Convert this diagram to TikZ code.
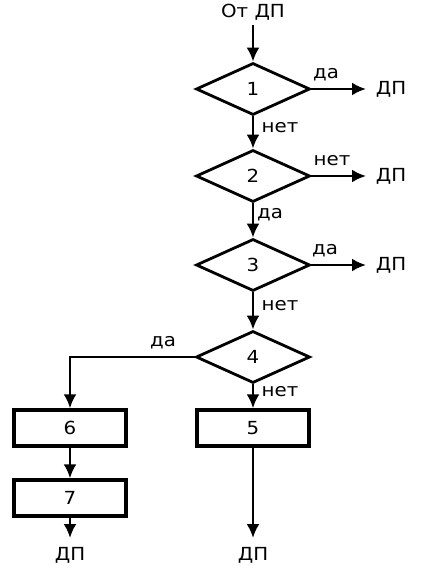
\documentclass[tikz,border=0pt]{standalone}
\usepackage{fontspec}
\setmainfont{DejaVu Sans}[FakeStretch=1.1]
\usetikzlibrary{shapes.geometric,arrows.meta}
\begin{document}
\begin{tikzpicture}[x=1pt,y=-1pt,
  font=\fontsize{18}{20}\selectfont,
  line width=2.6pt,
  dec/.style={diamond,draw,line width=2.8pt,inner sep=0pt,minimum width=114pt,minimum height=52pt,aspect=2.2},
  blk/.style={rectangle,draw,line width=3.4pt,inner sep=0pt,minimum width=112pt,minimum height=36pt},
  arr/.style={-{Latex[length=14pt,width=13pt]}},
  lbl/.style={inner sep=1pt},
  txt/.style={inner sep=0pt}]
\useasboundingbox (0,0) rectangle (423,569);
\node[txt] (start) at (253,12) {От ДП};
\node[dec] (d1) at (253,89) {1};
\node[dec] (d2) at (253,176) {2};
\node[dec] (d3) at (253,265) {3};
\node[dec] (d4) at (253,357) {4};
\node[blk] (b5) at (253,428) {5};
\node[blk] (b6) at (70,428) {6};
\node[blk] (b7) at (70,498) {7};
\node[txt] (o1) at (391,89) {ДП};
\node[txt] (o2) at (391,176) {ДП};
\node[txt] (o3) at (391,265) {ДП};
\node[txt] (o7) at (70,555) {ДП};
\node[txt] (o5) at (253,555) {ДП};
\coordinate (e1) at (366,89);
\coordinate (e2) at (366,176);
\coordinate (e3) at (366,265);
\coordinate (e7) at (70,538);
\coordinate (e5) at (253,538);
\coordinate (s0) at (253,25);
\coordinate (c4) at (70,357);
\draw[arr] (s0) -- (d1.north);
\draw[arr] (d1.east) -- (e1);
\draw[arr] (d2.east) -- (e2);
\draw[arr] (d3.east) -- (e3);
\draw[arr] (d1.south) -- (d2.north);
\draw[arr] (d2.south) -- (d3.north);
\draw[arr] (d3.south) -- (d4.north);
\draw[arr] (d4.south) -- (b5.north);
\draw[arr] (d4.west) -- (c4) -- (b6.north);
\draw[arr] (b6.south) -- (b7.north);
\draw[arr] (b7.south) -- (e7);
\draw[arr] (b5.south) -- (e5);
\node[lbl] at (326,75) {да};
\node[lbl] at (332,161) {нет};
\node[lbl] at (325,251) {да};
\node[lbl] at (163,343) {да};
\node[lbl] at (280,128) {нет};
\node[lbl] at (270,215) {да};
\node[lbl] at (280,306) {нет};
\node[lbl] at (280,392) {нет};
\end{tikzpicture}
\end{document}
